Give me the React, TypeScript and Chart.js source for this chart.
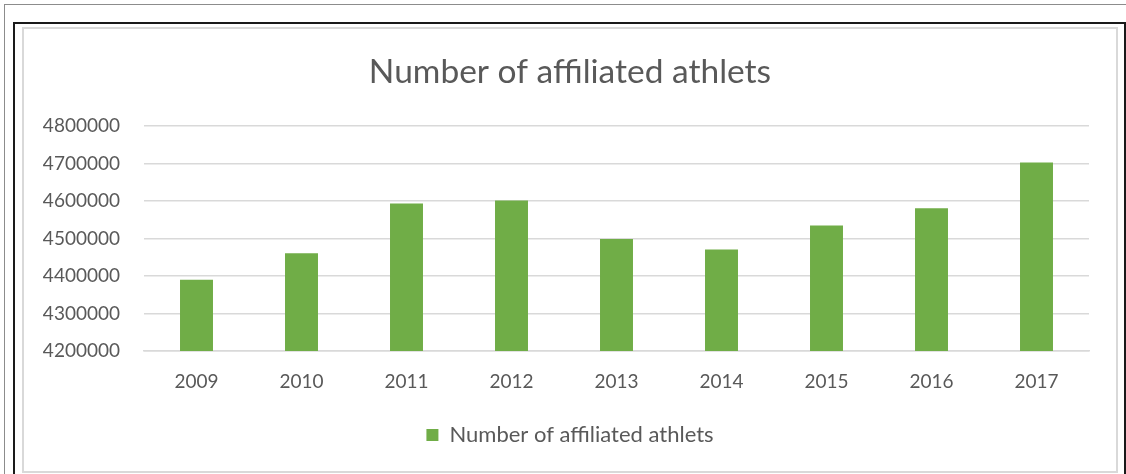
import React, { useEffect, useRef } from "react";
import { Chart, registerables } from "chart.js";

Chart.register(...registerables);

const categories: string[] = ["2009", "2010", "2011", "2012", "2013", "2014", "2015", "2016", "2017"];
const athletes: number[] = [4390000, 4461000, 4594000, 4602000, 4499000, 4471000, 4535000, 4581000, 4703000];
const seriesLabel = "Number of affiliated athlets";
const chartTitle = "Number of affiliated athlets";
const yMin = 4200000;
const yMax = 4800000;
const yStep = 100000;

const FONT = "Lato, 'Open Sans', sans-serif";
const TEXT = "#595959";
const GRID = "#d9d9d9";
const BAR = "#70ad47";

export default function App() {
  const ref = useRef<HTMLCanvasElement | null>(null);

  useEffect(() => {
    if (!ref.current) return;
    const chart = new Chart(ref.current, {
      type: "bar",
      data: {
        labels: categories,
        datasets: [
          {
            label: seriesLabel,
            data: athletes,
            backgroundColor: BAR,
            borderWidth: 0,
            categoryPercentage: 1,
            barPercentage: 0.314,
          },
        ],
      },
      options: {
        animation: false,
        responsive: false,
        maintainAspectRatio: false,
        layout: { padding: { left: 0, right: 0, top: 0, bottom: 15 } },
        plugins: {
          title: {
            display: true,
            text: chartTitle,
            color: TEXT,
            font: { family: FONT, size: 33.5, weight: "normal" },
            padding: { top: 23, bottom: 34 },
          },
          legend: {
            display: true,
            position: "bottom",
            labels: {
              color: TEXT,
              font: { family: FONT, size: 22 },
              boxWidth: 12,
              boxHeight: 12,
            },
          },
          tooltip: { enabled: false },
        },
        scales: {
          x: {
            grid: { display: false },
            border: { display: true, color: GRID, width: 1.5 },
            ticks: {
              color: TEXT,
              font: { family: FONT, size: 19 },
              padding: 11,
              maxRotation: 0,
            },
            afterFit: (scale: any) => {
              scale.height = 63;
            },
          },
          y: {
            min: yMin,
            max: yMax,
            border: { display: false },
            grid: { color: GRID, lineWidth: 1.5, drawTicks: false },
            ticks: {
              stepSize: yStep,
              color: TEXT,
              font: { family: FONT, size: 19 },
              padding: 24,
              callback: (v: any) => String(v),
            },
            afterFit: (scale: any) => {
              scale.width = 120;
            },
          },
          yRight: {
            position: "right",
            min: yMin,
            max: yMax,
            border: { display: false },
            grid: { display: false, drawTicks: false },
            ticks: { display: false },
            afterFit: (scale: any) => {
              scale.width = 27;
            },
          },
        },
      },
    });
    return () => chart.destroy();
  }, []);

  return (
    <div
      style={{
        position: "fixed",
        left: 0,
        top: 0,
        width: 1126,
        height: 474,
        background: "#ffffff",
        overflow: "hidden",
      }}
    >
      <div
        style={{
          position: "absolute",
          left: 4,
          top: 4,
          width: 1200,
          height: 600,
          borderLeft: "1px solid #8c8c8c",
          borderTop: "1px solid #8c8c8c",
        }}
      />
      <div
        style={{
          position: "absolute",
          left: 13,
          top: 22,
          width: 1109,
          height: 600,
          border: "2px solid #1a1a1a",
          background: "#ffffff",
        }}
      />
      <div
        style={{
          position: "absolute",
          left: 22,
          top: 27,
          width: 1092,
          height: 442,
          border: "2px solid #d9d9d9",
          background: "#ffffff",
        }}
      >
        <canvas ref={ref} width={1092} height={442} style={{ display: "block", width: 1092, height: 442 }} />
      </div>
    </div>
  );
}
